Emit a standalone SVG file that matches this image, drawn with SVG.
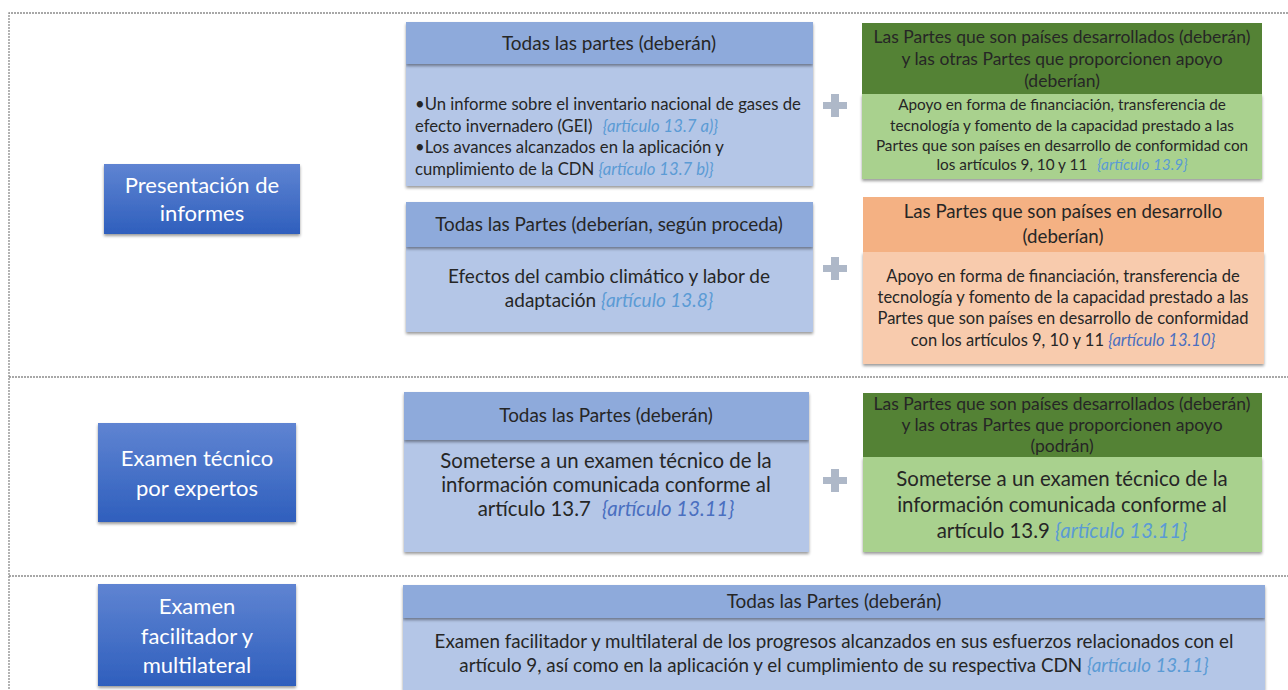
<svg xmlns="http://www.w3.org/2000/svg" width="1288" height="690" viewBox="0 0 1288 690">
<defs>
<linearGradient id="gBlue" x1="0" y1="0" x2="0" y2="1">
<stop offset="0" stop-color="#5f84d2"/>
<stop offset="1" stop-color="#2f5fbd"/>
</linearGradient>
<filter id="sh" x="-5%" y="-5%" width="110%" height="120%">
<feDropShadow dx="0" dy="2" stdDeviation="1.5" flood-color="#000" flood-opacity="0.4"/>
</filter>
<style>
text{font-family:Lato,"Liberation Sans",sans-serif;fill:#262626;}
.c{text-anchor:middle;}
.w{fill:#ffffff;font-size:22px;}
.cite{font-style:italic;fill:#5b9bd5;}
.cite2{font-style:italic;fill:#4a6fc0;}
.hb{fill:#8eaadb;}
.bb{fill:#b4c6e7;}
.hg{fill:#548235;}
.bg{fill:#a9d18e;}
.ho{fill:#f4b183;}
.bo{fill:#f8cbad;}
.sep{stroke:#8c8c8c;stroke-width:1.3;stroke-dasharray:2 1;fill:none;}
.plus{fill:#aeb8c8;}
</style>
</defs>
<g id="frame">
<path class="sep" d="M1288 13 H9 V690"/>
<path class="sep" d="M9 377 H1288"/>
<path class="sep" d="M9 576 H1288"/>
</g>
<g id="connectors">
<path class="plus" d="M831 94 h8 v8 h8 v7 h-8 v8 h-8 v-8 h-8 v-7 h8 z"/>
<path class="plus" d="M831 257 h8 v8 h8 v7 h-8 v8 h-8 v-8 h-8 v-7 h8 z"/>
<path class="plus" d="M831 469 h8 v8 h8 v7 h-8 v8 h-8 v-8 h-8 v-7 h8 z"/>
</g>
<g id="n-presentacion">
<rect x="104" y="164" width="196" height="70" fill="url(#gBlue)" filter="url(#sh)"/>
<text class="c w" x="202" y="193">Presentación de</text>
<text class="c w" x="202" y="221">informes</text>
</g>
<g id="n-examen-tecnico">
<rect x="98" y="423" width="198" height="99" fill="url(#gBlue)" filter="url(#sh)"/>
<text class="c w" x="197" y="466">Examen técnico</text>
<text class="c w" x="197" y="496">por expertos</text>
</g>
<g id="n-examen-facilitador">
<rect x="98" y="584" width="198" height="102" fill="url(#gBlue)" filter="url(#sh)"/>
<text class="c w" x="197" y="614">Examen</text>
<text class="c w" x="197" y="644">facilitador y</text>
<text class="c w" x="197" y="673">multilateral</text>
</g>
<g id="n-todas-1">
<rect class="bb" x="406" y="64" width="407" height="122" filter="url(#sh)"/>
<rect class="hb" x="406" y="22" width="407" height="42" filter="url(#sh)"/>
<text class="c" x="609" y="50" font-size="19">Todas las partes (deberán)</text>
<text x="415" y="110" font-size="16.7">•Un informe sobre el inventario nacional de gases de</text>
<text x="415" y="132" font-size="16.7">efecto invernadero (GEI) <tspan class="cite" dx="6">{artículo 13.7 a)}</tspan></text>
<text x="415" y="153" font-size="16.7">•Los avances alcanzados en la aplicación y</text>
<text x="415" y="175" font-size="16.7">cumplimiento de la CDN <tspan class="cite">{artículo 13.7 b)}</tspan></text>
</g>
<g id="n-desarrollados-1">
<rect class="bg" x="862" y="94" width="400" height="85" filter="url(#sh)"/>
<rect class="hg" x="862" y="23" width="400" height="71"/>
<text class="c" x="1062" y="43" font-size="17.5">Las Partes que son países desarrollados (deberán)</text>
<text class="c" x="1062" y="65" font-size="17.5">y las otras Partes que proporcionen apoyo</text>
<text class="c" x="1062" y="87" font-size="17.5">(deberían)</text>
<text class="c" x="1062" y="110" font-size="15.3">Apoyo en forma de financiación, transferencia de</text>
<text class="c" x="1062" y="131" font-size="15.3">tecnología y fomento de la capacidad prestado a las</text>
<text class="c" x="1062" y="151" font-size="15.3">Partes que son países en desarrollo de conformidad con</text>
<text class="c" x="1062" y="170" font-size="15.3">los artículos 9, 10 y 11 <tspan class="cite" dx="6">{artículo 13.9}</tspan></text>
</g>
<g id="n-todas-2">
<rect class="bb" x="406" y="247" width="407" height="85" filter="url(#sh)"/>
<rect class="hb" x="406" y="202" width="407" height="45" filter="url(#sh)"/>
<text class="c" x="609" y="231" font-size="18.9">Todas las Partes (deberían, según proceda)</text>
<text class="c" x="609" y="283" font-size="19">Efectos del cambio climático y labor de</text>
<text class="c" x="609" y="307" font-size="19">adaptación <tspan class="cite">{artículo 13.8}</tspan></text>
</g>
<g id="n-en-desarrollo">
<rect class="bo" x="863" y="252" width="401" height="112" filter="url(#sh)"/>
<rect class="ho" x="863" y="197" width="401" height="55"/>
<text class="c" x="1063" y="218" font-size="18.7">Las Partes que son países en desarrollo</text>
<text class="c" x="1063" y="243" font-size="18.7">(deberían)</text>
<text class="c" x="1063" y="282" font-size="16.5">Apoyo en forma de financiación, transferencia de</text>
<text class="c" x="1063" y="303" font-size="16.5">tecnología y fomento de la capacidad prestado a las</text>
<text class="c" x="1063" y="324" font-size="16.5">Partes que son países en desarrollo de conformidad</text>
<text class="c" x="1063" y="346" font-size="16.5">con los artículos 9, 10 y 11 <tspan class="cite2">{artículo 13.10}</tspan></text>
</g>
<g id="n-todas-3">
<rect class="bb" x="404" y="440" width="405" height="112" filter="url(#sh)"/>
<rect class="hb" x="404" y="392" width="405" height="48" filter="url(#sh)"/>
<text class="c" x="606" y="422" font-size="18.9">Todas las Partes (deberán)</text>
<text class="c" x="606" y="468" font-size="20.4">Someterse a un examen técnico de la</text>
<text class="c" x="606" y="492" font-size="20.4">información comunicada conforme al</text>
<text class="c" x="606" y="516" font-size="20.4">artículo 13.7 <tspan class="cite2" dx="6">{artículo 13.11}</tspan></text>
</g>
<g id="n-desarrollados-2">
<rect class="bg" x="863" y="457" width="399" height="95" filter="url(#sh)"/>
<rect class="hg" x="863" y="393" width="399" height="64"/>
<text class="c" x="1062" y="410" font-size="17.5">Las Partes que son países desarrollados (deberán)</text>
<text class="c" x="1062" y="431" font-size="17.5">y las otras Partes que proporcionen apoyo</text>
<text class="c" x="1062" y="452" font-size="17.5">(podrán)</text>
<text class="c" x="1062" y="486" font-size="20.4">Someterse a un examen técnico de la</text>
<text class="c" x="1062" y="512" font-size="20.4">información comunicada conforme al</text>
<text class="c" x="1062" y="538" font-size="20.4">artículo 13.9 <tspan class="cite">{artículo 13.11}</tspan></text>
</g>
<g id="n-todas-4">
<rect class="bb" x="403" y="618" width="862" height="72" filter="url(#sh)"/>
<rect class="hb" x="403" y="585" width="862" height="33" filter="url(#sh)"/>
<text class="c" x="834" y="608" font-size="19">Todas las Partes (deberán)</text>
<text class="c" x="834" y="648" font-size="18.8">Examen facilitador y multilateral de los progresos alcanzados en sus esfuerzos relacionados con el</text>
<text class="c" x="834" y="672" font-size="18.8">artículo 9, así como en la aplicación y el cumplimiento de su respectiva CDN <tspan class="cite">{artículo 13.11}</tspan></text>
</g>
</svg>
